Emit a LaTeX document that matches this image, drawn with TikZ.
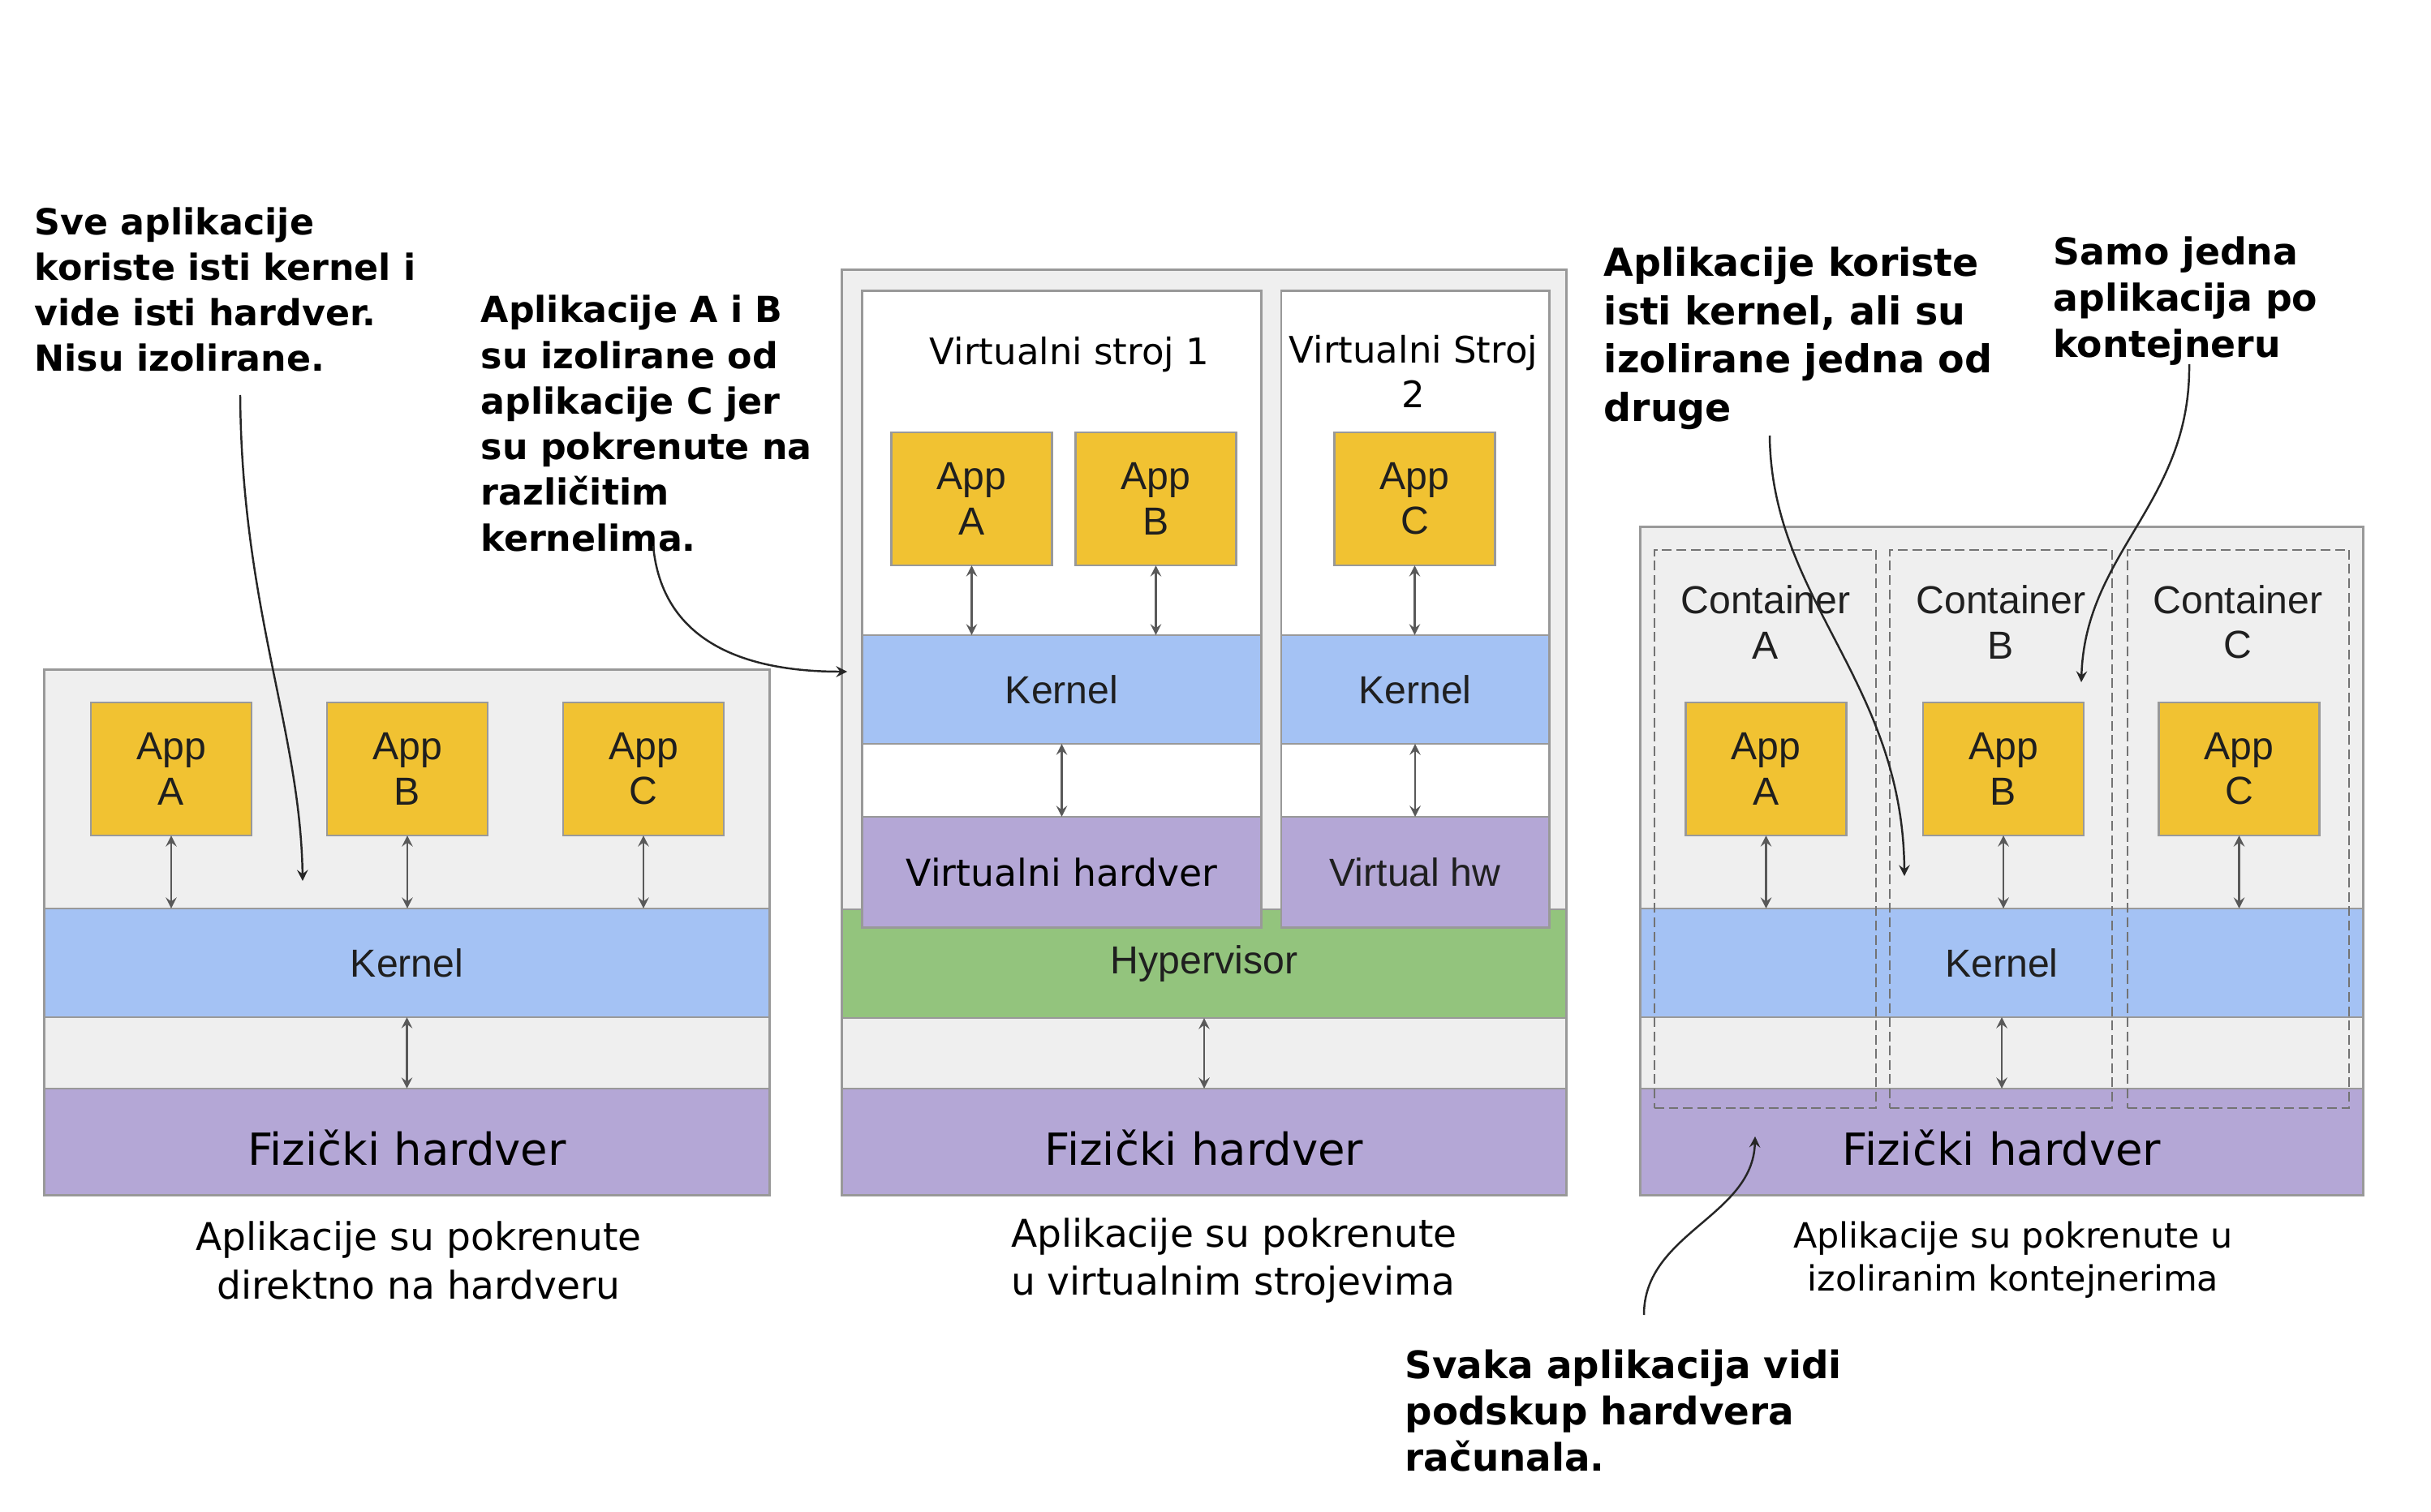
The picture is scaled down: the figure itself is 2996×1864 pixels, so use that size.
\documentclass[tikz,border=0pt]{standalone}
\usepackage{fontspec}
\setmainfont{DejaVu Sans}
\newfontfamily\arialfont{Liberation Sans}

\definecolor{appyellow}{HTML}{F1C232}
\definecolor{kernblue}{HTML}{A4C2F4}
\definecolor{hwpurple}{HTML}{B4A7D6}
\definecolor{hypgreen}{HTML}{93C47D}
\definecolor{panelgray}{HTML}{EFEFEF}
\definecolor{edgegray}{HTML}{999999}

\begin{document}
\begin{tikzpicture}[>=stealth,x=0.01cm,y=-0.01cm]

        % Styles
        \tikzset{
          layer/.style={draw=edgegray,line width=0.8pt,inner sep=0pt,outer sep=0pt},
          panel/.style={layer,fill=panelgray},
          vmbox/.style={layer,fill=white,minimum height=7.84cm},
          boxfont/.style={font=\arialfont\fontsize{13.7}{15.7}\selectfont,
                          text=black!88,align=center},
          app/.style={layer,boxfont,fill=appyellow,minimum width=1.98cm,minimum height=1.64cm},
          kern/.style={layer,boxfont,fill=kernblue,minimum height=1.34cm},
          hyp/.style={layer,boxfont,fill=hypgreen,minimum height=1.34cm},
          hw/.style={layer,fill=hwpurple,minimum height=1.31cm},
          hwtext/.style={font=\fontsize{15.5}{18}\selectfont,inner sep=0pt},
          vhw/.style={layer,fill=hwpurple,minimum height=1.36cm,
                      font=\fontsize{13}{16}\selectfont},
          cont/.style={draw=black!55,dash pattern=on 3.4pt off 1.6pt,line width=0.55pt,
                       minimum width=2.73cm,minimum height=6.88cm,inner sep=0pt},
          link/.style={<->,black!65,line width=0.7pt},
          caption/.style={align=center,inner sep=0pt,font=\fontsize{13.4}{16.9}\selectfont},
          note/.style={anchor=west,align=left,inner sep=0pt,
                       font=\bfseries\fontsize{12.6}{16}\selectfont},
          pointer/.style={->,black!85,line width=0.7pt}
        }

        \useasboundingbox (0,0) rectangle (2996,1864);

        % y-coordinates for levels
        \def\yApp{948}      % app row (left and right panel)
        \def\yKern{1187}    % kernel / hypervisor band
        \def\yHw{1407.5}    % physical hardware
        \def\yCap{1554}     % captions

        %-------------------------------
        % Left: apps directly on hardware
        %-------------------------------
        \node[panel,minimum width=8.93cm,minimum height=6.47cm] (Lbox) at (501.5,1149.5) {};
        \node[kern,minimum width=8.93cm] (Lkern) at (501.5,\yKern) {Kernel};
        \node[hw,minimum width=8.93cm] (Lhw) at (501.5,\yHw) {};
        \node[hwtext] (Lhwtext) at ([yshift=-0.08cm]Lhw.center) {Fizički hardver};

        \node[app] (LA) at (211,\yApp) {App\\A};
        \node[app] (LB) at (502,\yApp) {App\\B};
        \node[app] (LC) at (793,\yApp) {App\\C};

        \draw[link] (LA.south) -- (LA.south |- Lkern.north);
        \draw[link] (LB.south) -- (LB.south |- Lkern.north);
        \draw[link] (LC.south) -- (LC.south |- Lkern.north);
        \draw[link] (Lkern.south) -- (Lhw.north);

        \node[caption] (Lcap) at (516,\yCap) {Aplikacije su pokrenute\\direktno na hardveru};

        %-------------------------------
        % Middle: virtual machines
        %-------------------------------
        \node[panel,minimum width=8.92cm,minimum height=11.40cm] (Mbox) at (1484,903) {};
        \node[hyp,minimum width=8.92cm] (Mhyp) at (1484,1188) {Hypervisor};
        \node[hw,minimum width=8.92cm] (Mhw) at (1484,\yHw) {};
        \node[hwtext] (Mhwtext) at ([yshift=-0.08cm]Mhw.center) {Fizički hardver};

        \node[vmbox,minimum width=4.91cm] (VM1) at (1308.5,751) {};
        \node[vmbox,minimum width=3.30cm] (VM2) at (1744,751) {};

        \node[font=\fontsize{12.8}{15.8}\selectfont] (VM1lab) at (1318,437) {Virtualni stroj 1};
        \node[align=center,font=\fontsize{12.8}{15.8}\selectfont] (VM2lab) at (1742,458)
        {Virtualni Stroj\\2};

        \node[app] (MA) at (1197.5,615) {App\\A};
        \node[app] (MB) at (1424.5,615) {App\\B};
        \node[app] (MC) at (1743.5,615) {App\\C};

        \node[kern,minimum width=4.91cm] (K1) at (1308.5,850) {Kernel};
        \node[kern,minimum width=3.30cm] (K2) at (1744,850) {Kernel};

        \node[vhw,minimum width=4.91cm] (V1) at (1308.5,1075) {Virtualni hardver};
        \node[vhw,boxfont,minimum width=3.30cm] (V2) at (1744,1075) {Virtual hw};

        \draw[link] (MA.south) -- (MA.south |- K1.north);
        \draw[link] (MB.south) -- (MB.south |- K1.north);
        \draw[link] (MC.south) -- (MC.south |- K2.north);
        \draw[link] (K1) -- (V1);
        \draw[link] (K2) -- (V2);
        \draw[link] (Mhyp.south) -- (Mhw.north);

        \node[caption,align=left] (Mcap) at (1521,\yCap) {Aplikacije su pokrenute\\u virtualnim strojevima};

        %-------------------------------
        % Right: containers
        %-------------------------------
        \node[panel,minimum width=8.90cm,minimum height=8.23cm] (Rbox) at (2467,1061.5) {};
        \node[kern,minimum width=8.90cm] (Rkern) at (2467,\yKern) {Kernel};
        \node[hw,minimum width=8.90cm] (Rhw) at (2467,\yHw) {};
        \node[hwtext] (Rhwtext) at ([yshift=-0.08cm]Rhw.center) {Fizički hardver};

        \node[cont] (CA) at (2175.5,1022) {};
        \node[cont] (CB) at (2466,1022) {};
        \node[cont] (CC) at (2758.5,1022) {};

        \node[boxfont] (CAlab) at (2176,767) {Container\\A};
        \node[boxfont] (CBlab) at (2466,767) {Container\\B};
        \node[boxfont] (CClab) at (2758,767) {Container\\C};

        \node[app] (RA) at (2176.5,\yApp) {App\\A};
        \node[app] (RB) at (2469,\yApp) {App\\B};
        \node[app] (RC) at (2759.5,\yApp) {App\\C};

        \draw[link] (RA.south) -- (RA.south |- Rkern.north);
        \draw[link] (RB.south) -- (RB.south |- Rkern.north);
        \draw[link] (RC.south) -- (RC.south |- Rkern.north);
        \draw[link] (Rkern.south) -- (Rhw.north);

        \node[caption,font=\fontsize{12.2}{15.2}\selectfont] (Rcap) at (2481,1553)
        {Aplikacije su pokrenute u\\izoliranim kontejnerima};

        %---------------------------------
        % Notes and their pointers
        %---------------------------------
        \node[note] (N1) at (42,357)
        {Sve aplikacije\\koriste isti kernel i\\vide isti hardver.\\Nisu izolirane.};
        \node[note] (N2) at (592,522)
        {Aplikacije A i B\\su izolirane od\\aplikacije C jer\\su pokrenute na\\različitim\\kernelima.};
        \node[note,font=\bfseries\fontsize{13.5}{16.9}\selectfont] (N3) at (1976,417)
        {Aplikacije koriste\\isti kernel, ali su\\izolirane jedna od\\druge};
        \node[note,font=\bfseries\fontsize{13}{16.2}\selectfont] (N4) at (2530,371)
        {Samo jedna\\aplikacija po\\kontejneru};
        \node[note,font=\bfseries\fontsize{13.3}{16.3}\selectfont] (N5) at (1731,1739)
        {Svaka aplikacija vidi\\podskup hardvera\\računala.};

        \coordinate (N1tail) at (296,487);
        \coordinate (N1head) at (373,1086);
        \coordinate (N2tail) at (805,673);
        \coordinate (N2head) at (1044,828);
        \coordinate (N3tail) at (2181,537);
        \coordinate (N3head) at (2347,1080);
        \coordinate (N4tail) at (2698,449);
        \coordinate (N4head) at (2565,841);
        \coordinate (N5tail) at (2026,1621);
        \coordinate (N5head) at (2163,1401);

        \draw[pointer] (N1tail) .. controls (298,750) and (370,900) .. (N1head);
        \draw[pointer] (N2tail) .. controls (815,780) and (900,828) .. (N2head);
        \draw[pointer] (N3tail) .. controls (2183,740) and (2345,840) .. (N3head);
        \draw[pointer] (N4tail) .. controls (2700,620) and (2570,680) .. (N4head);
        \draw[pointer] (N5tail) .. controls (2026,1520) and (2160,1500) .. (N5head);

\end{tikzpicture}
\end{document}
